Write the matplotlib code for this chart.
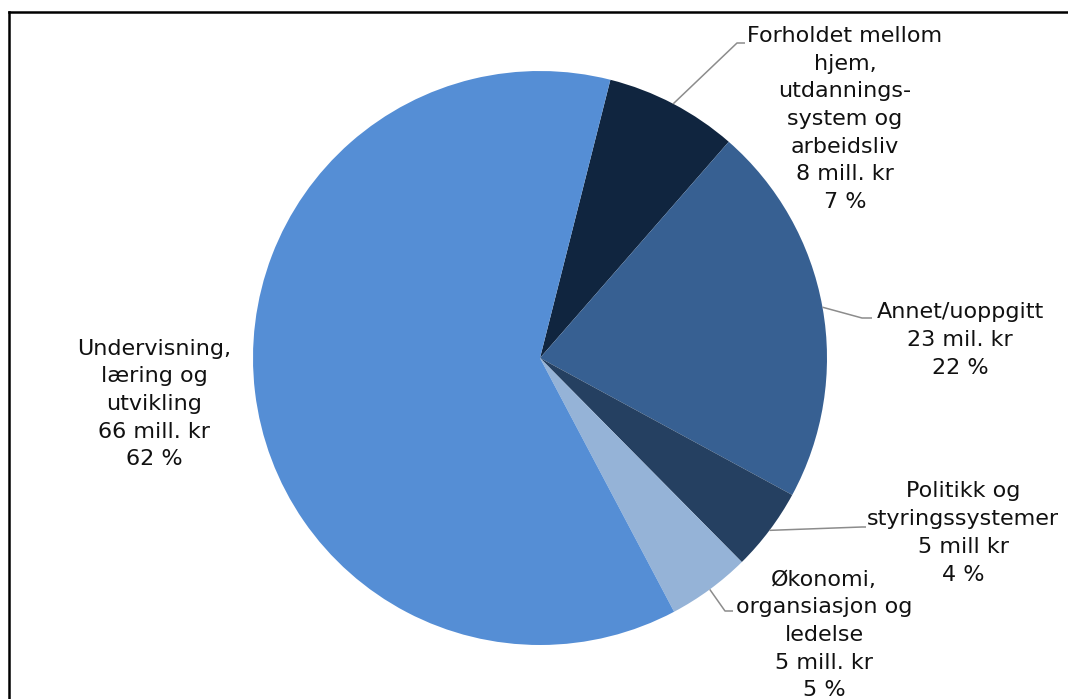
import numpy as np
import matplotlib
matplotlib.use("Agg")
import matplotlib.pyplot as plt
from matplotlib.lines import Line2D

categories = ["Forholdet mellom\nhjem,\nutdannings-\nsystem og\narbeidsliv",
              "Annet/uoppgitt",
              "Politikk og\nstyringssystemer",
              "Økonomi,\norgansiasjon og\nledelse",
              "Undervisning,\nlæring og\nutvikling"]
values = [8, 23, 5, 5, 66]
amount_labels = ["8 mill. kr", "23 mil. kr", "5 mill kr", "5 mill. kr", "66 mill. kr"]
percent_labels = ["7 %", "22 %", "4 %", "5 %", "62 %"]
colors = ["#10253F", "#376092", "#254061", "#95B3D7", "#558ED5"]

W, H = 1068, 699
fig = plt.figure(figsize=(W / 100, H / 100), dpi=100)
cx, cy, R = 540, 358, 287
ax = fig.add_axes([(cx - R) / W, (H - cy - R) / H, 2 * R / W, 2 * R / H])
wedges, _ = ax.pie(values, colors=colors, startangle=90 - 14.2, counterclock=False,
                   wedgeprops=dict(linewidth=0))
ax.set_xlim(-1, 1)
ax.set_ylim(-1, 1)
ax.set_aspect("equal")
ax.axis("off")


def px(x, y):
    return ((x - cx) / R, (cy - y) / R)


# label centres and leader-line knees (pixel positions)
label_pos = [(845, 119), (960, 340), (963, 533), (824, 635), (154, 404)]
leaders = [[(737, 43), (745, 43)],
           [(862, 318), (872, 318)],
           [(862, 527), (866, 527)],
           [(725, 611), (733, 611)],
           None]

for i, w in enumerate(wedges):
    txt = f"{categories[i]}\n{amount_labels[i]}\n{percent_labels[i]}"
    tx, ty = px(*label_pos[i])
    ax.text(tx, ty, txt, ha="center", va="center", fontsize=16,
            linespacing=1.48, color="#111111", clip_on=False,
            family="DejaVu Sans")
    if leaders[i] is not None:
        mid = np.deg2rad((w.theta1 + w.theta2) / 2)
        pts = [(np.cos(mid), np.sin(mid))] + [px(*p) for p in leaders[i]]
        xs, ys = zip(*pts)
        ax.plot(xs, ys, color="#8c8c8c", lw=1.1, clip_on=False, solid_capstyle="butt")

# frame: top and left borders
fig.add_artist(Line2D([9 / W, 1], [1 - 12 / H, 1 - 12 / H], transform=fig.transFigure,
                      color="black", lw=1.8))
fig.add_artist(Line2D([9 / W, 9 / W], [0, 1 - 12 / H], transform=fig.transFigure,
                      color="black", lw=1.8))

fig.savefig("out.png", dpi=100, facecolor="white")
